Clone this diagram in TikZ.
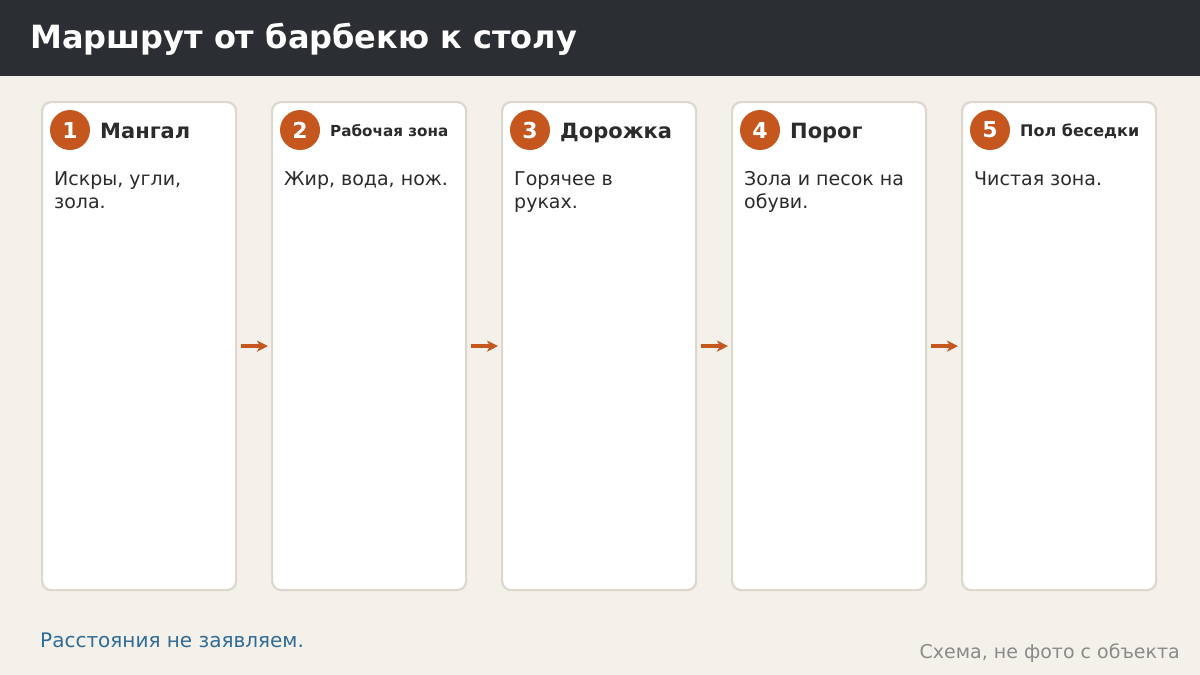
\documentclass[tikz,border=0pt]{standalone}
\usepackage{fontspec}
\setmainfont{DejaVu Sans}
\usetikzlibrary{arrows.meta}
\definecolor{bg}{HTML}{F4F1EA}
\definecolor{hdr}{HTML}{2B2E33}
\definecolor{cardborder}{HTML}{DDD8CE}
\definecolor{accent}{HTML}{C4561E}
\definecolor{ink}{HTML}{2B2B2B}
\definecolor{note}{HTML}{2E6B96}
\definecolor{muted}{HTML}{8A8A8A}
\tikzset{
  card/.style={draw=cardborder, line width=2.2pt, fill=white, rounded corners=9pt,
    minimum width=194pt, minimum height=488pt, anchor=north west, inner sep=0pt},
  badge/.style={circle, fill=accent, minimum size=40pt, inner sep=0pt, text=white,
    font=\fontsize{22}{26}\selectfont\bfseries},
  cardtitle/.style={anchor=base west, text=ink, inner sep=0pt},
  body/.style={anchor=north west, text=ink, align=left, inner sep=0pt,
    font=\fontsize{19}{22.5}\selectfont},
  flow/.style={draw=accent, line width=3.5pt, -{Stealth[length=11pt,width=11pt,inset=3pt]},
    shorten <=4pt, shorten >=3pt}
}
\begin{document}
\begin{tikzpicture}[x=1pt,y=-1pt]
\useasboundingbox (0,0) rectangle (1200,675);
\fill[bg] (0,0) rectangle (1200,675);
\fill[hdr] (0,0) rectangle (1200,76);
\node[anchor=west, text=white, inner sep=0pt, font=\fontsize{32}{38}\selectfont\bfseries] (title) at (30,39) {Маршрут от барбекю к столу};

\foreach \i/\x in {1/41,2/271,3/501,4/731,5/961}{
  \node[card] (c\i) at (\x,101) {};
  \node[badge] (b\i) at (\x+29,130) {\i};
}
\node[cardtitle, font=\fontsize{21}{24}\selectfont\bfseries] (t1) at (100,138) {Мангал};
\node[cardtitle, font=\fontsize{15.2}{18}\selectfont\bfseries] (t2) at (330,136) {Рабочая зона};
\node[cardtitle, font=\fontsize{21}{24}\selectfont\bfseries] (t3) at (560,138) {Дорожка};
\node[cardtitle, font=\fontsize{21}{24}\selectfont\bfseries] (t4) at (790,138) {Порог};
\node[cardtitle, font=\fontsize{16}{18}\selectfont\bfseries] (t5) at (1020,136) {Пол беседки};

\node[body] (d1) at (54,171.5) {Искры, угли,\\зола.};
\node[body] (d2) at (284,171.5) {Жир, вода, нож.};
\node[body] (d3) at (514,171.5) {Горячее в\\руках.};
\node[body] (d4) at (744,171.5) {Зола и песок на\\обуви.};
\node[body] (d5) at (974,171.5) {Чистая зона.};

\foreach \a/\b in {1/2,2/3,3/4,4/5}{
  \draw[flow] (c\a.east) -- (c\b.west);
}

\node[anchor=west, text=note, inner sep=0pt, font=\fontsize{20}{24}\selectfont] (foot1) at (40,640) {Расстояния не заявляем.};
\node[anchor=east, text=muted, inner sep=0pt, font=\fontsize{19}{22}\selectfont] (foot2) at (1180,653) {Схема, не фото с объекта};
\end{tikzpicture}
\end{document}
